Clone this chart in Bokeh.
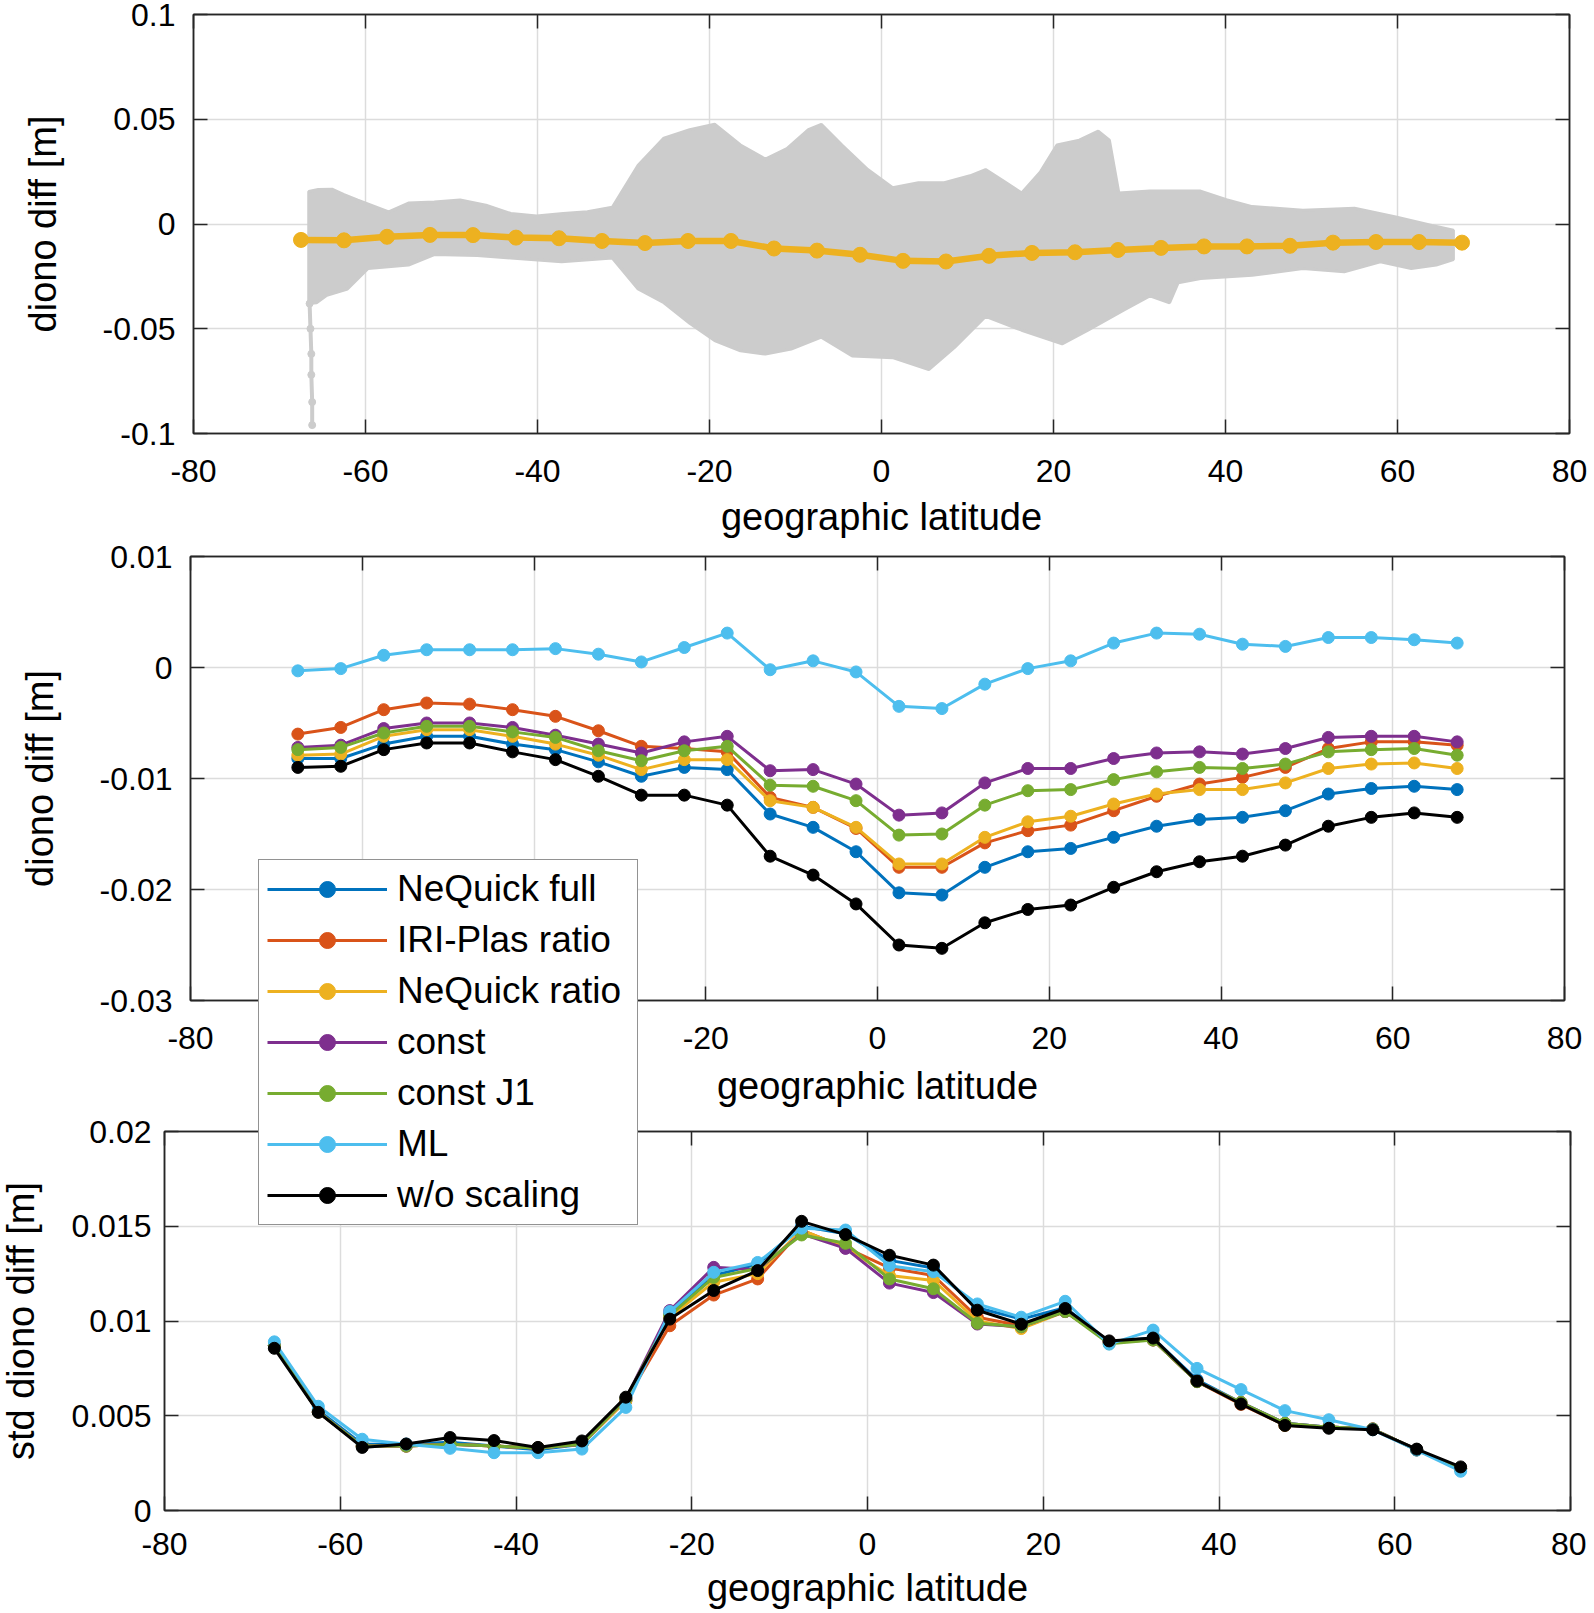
from bokeh.plotting import figure
from bokeh.layouts import column
from bokeh.models import (Range1d, LinearAxis, FixedTicker, Legend, LegendItem,
                          CustomJSTickFormatter)
from bokeh.embed import file_html
from bokeh.resources import INLINE

# ---------------- data ----------------
lat = [-67.5, -62.5, -57.5, -52.5, -47.5, -42.5, -37.5, -32.5, -27.5, -22.5,
       -17.5, -12.5, -7.5, -2.5, 2.5, 7.5, 12.5, 17.5, 22.5, 27.5,
       32.5, 37.5, 42.5, 47.5, 52.5, 57.5, 62.5, 67.5]

x_ticks = [-80, -60, -40, -20, 0, 20, 40, 60, 80]
x_tick_labels = ["-80", "-60", "-40", "-20", "0", "20", "40", "60", "80"]

top_y_ticks = [-0.1, -0.05, 0, 0.05, 0.1]
top_y_labels = ["-0.1", "-0.05", "0", "0.05", "0.1"]
mid_y_ticks = [-0.03, -0.02, -0.01, 0, 0.01]
mid_y_labels = ["-0.03", "-0.02", "-0.01", "0", "0.01"]
bot_y_ticks = [0, 0.005, 0.01, 0.015, 0.02]
bot_y_labels = ["0", "0.005", "0.01", "0.015", "0.02"]

# top panel: envelope of all individual differences (grey cloud)
cloud_upper_lat = [-66.6, -65.5, -63.9, -62.5, -60.9, -57.3, -55.0, -52.0, -49.0, -46.0,
                   -43.1, -40.1, -37.0, -34.2, -31.3, -28.3, -25.3, -22.3, -19.4, -16.4,
                   -13.5, -11.0, -8.5, -7.0, -4.6, -1.6, 1.3, 4.3, 7.3, 10.3,
                   12.1, 14.0, 16.3, 18.5, 20.4, 23.0, 25.2, 26.5, 27.6, 31.2,
                   37.1, 40.1, 43.1, 49.0, 55.0, 59.8, 64.0, 66.5]
cloud_upper_val = [0.0155, 0.0165, 0.0166, 0.0140, 0.0114, 0.0058, 0.0100, 0.0105, 0.0115, 0.0090,
                   0.0050, 0.0038, 0.0050, 0.0058, 0.0080, 0.0280, 0.0410, 0.0450, 0.0476, 0.0377,
                   0.0310, 0.0360, 0.0450, 0.0476, 0.0377, 0.0260, 0.0173, 0.0197, 0.0197, 0.0230,
                   0.0260, 0.0210, 0.0148, 0.0250, 0.0377, 0.0400, 0.0443, 0.0400, 0.0148, 0.0157,
                   0.0157, 0.0116, 0.0083, 0.0066, 0.0075, 0.0034, -0.0007, -0.0030]
cloud_lower_lat = [-66.6, -65.7, -64.5, -62.1, -59.7, -55.0, -52.0, -47.0, -43.1, -37.2,
                   -31.3, -28.3, -25.3, -22.3, -19.4, -16.4, -13.5, -10.5, -7.0, -3.4,
                   1.3, 5.5, 8.5, 12.1, 16.3, 21.0, 24.0, 28.2, 31.2, 33.5,
                   34.5, 37.1, 43.1, 49.0, 53.8, 58.0, 61.6, 64.5, 66.5]
cloud_lower_val = [-0.0380, -0.0376, -0.0340, -0.0310, -0.0212, -0.0196, -0.0146, -0.0150, -0.0162, -0.0180,
                   -0.0162, -0.0310, -0.0376, -0.0474, -0.0556, -0.0605, -0.0621, -0.0597, -0.0540, -0.0630,
                   -0.0638, -0.0695, -0.0589, -0.0441, -0.0507, -0.0572, -0.0507, -0.0410, -0.0343, -0.0376,
                   -0.0280, -0.0260, -0.0245, -0.0212, -0.0228, -0.0180, -0.0212, -0.0196, -0.0170]
spike_lat = [-66.5, -66.4, -66.3, -66.3, -66.2, -66.2]
spike_val = [-0.038, -0.050, -0.062, -0.072, -0.085, -0.096]

top_mean = [-0.0076, -0.0078, -0.0061, -0.0052, -0.0053, -0.0065, -0.0068, -0.0081, -0.0091, -0.0081,
            -0.0081, -0.0117, -0.0127, -0.0147, -0.0176, -0.0179, -0.0152, -0.0138, -0.0135, -0.0124,
            -0.0114, -0.0107, -0.0107, -0.0104, -0.0089, -0.0086, -0.0086, -0.0089]

series_names = ["NeQuick full", "IRI-Plas ratio", "NeQuick ratio", "const", "const J1", "ML", "w/o scaling"]
series_colors = ["#0072BD", "#D95319", "#EDB120", "#7E2F8E", "#77AC30", "#4DBEEE", "#000000"]

mid_nequick_full = [-0.0082, -0.0082, -0.0069, -0.0062, -0.0062, -0.0069, -0.0074, -0.0085, -0.0098, -0.0090,
                    -0.0092, -0.0132, -0.0144, -0.0166, -0.0203, -0.0205, -0.0180, -0.0166, -0.0163, -0.0153,
                    -0.0143, -0.0137, -0.0135, -0.0129, -0.0114, -0.0109, -0.0107, -0.0110]
mid_iri_plas = [-0.0060, -0.0054, -0.0038, -0.0032, -0.0033, -0.0038, -0.0044, -0.0057, -0.0071, -0.0073,
                -0.0076, -0.0117, -0.0126, -0.0145, -0.0180, -0.0180, -0.0158, -0.0147, -0.0142, -0.0129,
                -0.0116, -0.0105, -0.0099, -0.0090, -0.0073, -0.0067, -0.0067, -0.0070]
mid_nequick_ratio = [-0.0079, -0.0078, -0.0062, -0.0056, -0.0056, -0.0062, -0.0069, -0.0079, -0.0092, -0.0083,
                     -0.0083, -0.0120, -0.0126, -0.0144, -0.0177, -0.0177, -0.0153, -0.0139, -0.0134, -0.0123,
                     -0.0114, -0.0110, -0.0110, -0.0104, -0.0091, -0.0087, -0.0086, -0.0091]
mid_const = [-0.0072, -0.0070, -0.0055, -0.0050, -0.0050, -0.0054, -0.0061, -0.0069, -0.0077, -0.0067,
             -0.0062, -0.0093, -0.0092, -0.0105, -0.0133, -0.0131, -0.0104, -0.0091, -0.0091, -0.0082,
             -0.0077, -0.0076, -0.0078, -0.0073, -0.0063, -0.0062, -0.0062, -0.0067]
mid_const_j1 = [-0.0074, -0.0072, -0.0059, -0.0053, -0.0053, -0.0058, -0.0063, -0.0075, -0.0084, -0.0075,
                -0.0071, -0.0106, -0.0107, -0.0120, -0.0151, -0.0150, -0.0124, -0.0111, -0.0110, -0.0101,
                -0.0094, -0.0090, -0.0091, -0.0087, -0.0076, -0.0074, -0.0073, -0.0079]
mid_ml = [-0.0003, -0.0001, 0.0011, 0.0016, 0.0016, 0.0016, 0.0017, 0.0012, 0.0005, 0.0018,
          0.0031, -0.0002, 0.0006, -0.0004, -0.0035, -0.0037, -0.0015, -0.0001, 0.0006, 0.0022,
          0.0031, 0.0030, 0.0021, 0.0019, 0.0027, 0.0027, 0.0025, 0.0022]
mid_wo_scaling = [-0.0090, -0.0089, -0.0074, -0.0068, -0.0068, -0.0076, -0.0083, -0.0098, -0.0115, -0.0115,
                  -0.0124, -0.0170, -0.0187, -0.0213, -0.0250, -0.0253, -0.0230, -0.0218, -0.0214, -0.0198,
                  -0.0184, -0.0175, -0.0170, -0.0160, -0.0143, -0.0135, -0.0131, -0.0135]

std_nequick_full = [0.0087, 0.0053, 0.0035, 0.0035, 0.0036, 0.0034, 0.0032, 0.0035, 0.0058, 0.0104,
                    0.0124, 0.0130, 0.0150, 0.0146, 0.0132, 0.0128, 0.0107, 0.0101, 0.0107, 0.0089,
                    0.0091, 0.0069, 0.0057, 0.0046, 0.0044, 0.0043, 0.0032, 0.0022]
std_iri_plas = [0.0087, 0.0052, 0.0034, 0.0034, 0.0035, 0.0034, 0.0033, 0.0035, 0.0058, 0.00975,
                0.01137, 0.01222, 0.0148, 0.01387, 0.0128, 0.0124, 0.0102, 0.00975, 0.0105, 0.0089,
                0.0090, 0.0068, 0.0056, 0.0045, 0.0044, 0.0043, 0.0032, 0.0022]
std_nequick_ratio = [0.0087, 0.0052, 0.0034, 0.0034, 0.0035, 0.0034, 0.0033, 0.0035, 0.0058, 0.0102,
                     0.01205, 0.0125, 0.0148, 0.01387, 0.0124, 0.01214, 0.0100, 0.0096, 0.0105, 0.0089,
                     0.0090, 0.0068, 0.0057, 0.0045, 0.0044, 0.0043, 0.0032, 0.0022]
std_const = [0.0087, 0.0052, 0.0034, 0.0034, 0.0035, 0.0034, 0.0033, 0.0035, 0.0059, 0.01055,
             0.01283, 0.01271, 0.0146, 0.01383, 0.0120, 0.0115, 0.00984, 0.0097, 0.0105, 0.0089,
             0.0090, 0.0068, 0.0057, 0.0046, 0.0044, 0.0043, 0.0032, 0.0022]
std_const_j1 = [0.0087, 0.0052, 0.0034, 0.0034, 0.0035, 0.0034, 0.0033, 0.0035, 0.0059, 0.0103,
                0.0123, 0.01277, 0.01454, 0.0141, 0.01222, 0.0117, 0.00988, 0.0097, 0.0105, 0.0088,
                0.0090, 0.0068, 0.0057, 0.0046, 0.0044, 0.0043, 0.0032, 0.0022]
std_ml = [0.0089, 0.0055, 0.00376, 0.0035, 0.00328, 0.00305, 0.00305, 0.00324, 0.00544, 0.01050,
          0.01257, 0.01309, 0.0149, 0.0148, 0.01292, 0.0126, 0.0109, 0.0102, 0.01104, 0.00878,
          0.00952, 0.0075, 0.00638, 0.00527, 0.00479, 0.00426, 0.00319, 0.00207]
std_wo_scaling = [0.00856, 0.00518, 0.00333, 0.00351, 0.00385, 0.00369, 0.00333, 0.00367, 0.00598, 0.01010,
                  0.01161, 0.01266, 0.01526, 0.01456, 0.01347, 0.01295, 0.01057, 0.00983, 0.01066, 0.00895,
                  0.0091, 0.00683, 0.00562, 0.00449, 0.00434, 0.00426, 0.00324, 0.0023]

mid_series = [mid_nequick_full, mid_iri_plas, mid_nequick_ratio, mid_const, mid_const_j1, mid_ml, mid_wo_scaling]
std_series = [std_nequick_full, std_iri_plas, std_nequick_ratio, std_const, std_const_j1, std_ml, std_wo_scaling]

# ---------------- style ----------------
FONT = "Liberation Sans"
AXC = "#262626"
GRIDC = "#dcdcdc"
TICK_PX = "32px"
LABEL_PX = "38px"
LEGEND_PX = "37px"
LW = 3
MS = 12
W = 1592


def fmt(vals, labs):
    return CustomJSTickFormatter(args=dict(vals=vals, labs=labs), code="""
        for (let i = 0; i < vals.length; i++) {
            if (Math.abs(vals[i] - tick) < 1e-9) { return labs[i]; }
        }
        return '';
    """)


def blank():
    return CustomJSTickFormatter(code="return '';")


def style_axis(ax, ticker):
    ax.ticker = ticker
    ax.axis_line_color = AXC
    ax.axis_line_width = 1.5
    ax.major_tick_line_color = AXC
    ax.major_tick_line_width = 1.5
    ax.major_tick_in = 14
    ax.major_tick_out = 0
    ax.minor_tick_in = 0
    ax.minor_tick_out = 0
    ax.minor_tick_line_color = None
    ax.major_label_text_font = FONT
    ax.major_label_text_font_size = TICK_PX
    ax.major_label_text_color = "black"
    ax.axis_label_text_font = FONT
    ax.axis_label_text_font_size = LABEL_PX
    ax.axis_label_text_font_style = "normal"
    ax.axis_label_text_color = "black"


def make_fig(width, height, ylo, yhi, bl, br, bt, bb, yticks, ylabels, ylabel,
             x_std, x_lab_std, y_std, y_lab_std, margin=(0, 0, 0, 0)):
    p = figure(width=width, height=height, x_range=Range1d(-80, 80), y_range=Range1d(ylo, yhi),
               output_backend="svg", toolbar_location=None,
               min_border_left=bl, min_border_right=br, min_border_top=bt, min_border_bottom=bb,
               margin=margin)
    p.frame_align = False
    xt = FixedTicker(ticks=x_ticks)
    yt = FixedTicker(ticks=yticks)
    bx = p.xaxis[0]
    ly = p.yaxis[0]
    style_axis(bx, xt)
    style_axis(ly, yt)
    bx.formatter = fmt(x_ticks, x_tick_labels)
    ly.formatter = fmt(yticks, ylabels)
    bx.axis_label = "geographic latitude"
    ly.axis_label = ylabel
    bx.major_label_standoff = x_std
    bx.axis_label_standoff = x_lab_std
    ly.major_label_standoff = y_std
    ly.axis_label_standoff = y_lab_std
    for loc, tk in (("above", xt), ("right", yt)):
        ax = LinearAxis()
        style_axis(ax, tk)
        ax.formatter = blank()
        ax.major_label_text_font_size = "1px"
        ax.major_label_standoff = 0
        p.add_layout(ax, loc)
    p.xgrid.ticker = xt
    p.ygrid.ticker = yt
    for g in (p.xgrid, p.ygrid):
        g.grid_line_color = GRIDC
        g.grid_line_width = 1.5
    p.outline_line_color = AXC
    p.outline_line_width = 1.5
    p.background_fill_color = "white"
    p.border_fill_color = "white"
    return p


# ---------------- top panel ----------------
p1 = make_fig(W, 540, -0.1, 0.1, 193, W - 1569, 14, 106,
              top_y_ticks, top_y_labels, "diono diff [m]", 26, 11, 18, 36)
p1.patch(cloud_upper_lat + cloud_lower_lat[::-1], cloud_upper_val + cloud_lower_val[::-1],
         fill_color="#cccccc", line_color="#cccccc", line_width=3)
p1.line(spike_lat, spike_val, line_color="#cccccc", line_width=4)
p1.scatter(spike_lat, spike_val, size=7, color="#cccccc")
p1.line(lat, top_mean, line_color="#EDB120", line_width=6.5)
p1.scatter(lat, top_mean, size=15, color="#EDB120")

# ---------------- middle panel ----------------
p2 = make_fig(W, 569, -0.03, 0.01, 190, W - 1564, 16, 109,
              mid_y_ticks, mid_y_labels, "diono diff [m]", 26, 13, 18, 36)
for vals, col in zip(mid_series, series_colors):
    p2.line(lat, vals, line_color=col, line_width=LW)
    p2.scatter(lat, vals, size=MS, color=col)

# ---------------- bottom panel ----------------
p3 = make_fig(W, 502, 0, 0.02, 170, W - 6 - 1570, 22, 101,
              bot_y_ticks, bot_y_labels, "std diono diff [m]", 22, 9, 13, 26,
              margin=(0, 0, 0, -6))
for vals, col in zip(std_series, series_colors):
    p3.line(lat, vals, line_color=col, line_width=LW)
    p3.scatter(lat, vals, size=MS, color=col)

# ---------------- legend (own transparent canvas overlapping panels 2 and 3) ----------------
pl = figure(width=392, height=374, output_backend="svg", toolbar_location=None,
            x_axis_location=None, y_axis_location=None,
            min_border=0, min_border_left=0, min_border_right=0, min_border_top=0, min_border_bottom=0,
            margin=(858 - 1611, 0, 0, 257))
pl.frame_align = False
pl.grid.visible = False
pl.outline_line_color = None
pl.background_fill_color = None
pl.border_fill_color = None
items = []
for vals, col, name in zip(std_series, series_colors, series_names):
    lr = pl.line(lat, vals, line_color=col, line_width=LW, visible=False)
    sr = pl.scatter(lat, vals, size=MS - 1, color=col, visible=False)
    items.append(LegendItem(label=name, renderers=[lr, sr]))
legend = Legend(items=items, location="top_left")
legend.label_text_font = FONT
legend.label_text_font_size = LEGEND_PX
legend.label_text_color = "black"
legend.glyph_width = 120
legend.glyph_height = 40
legend.label_height = 42
legend.label_width = 232
legend.label_standoff = 10
legend.spacing = 9
legend.padding = 8
legend.margin = 1
legend.border_line_color = AXC
legend.border_line_width = 1.5
legend.background_fill_color = "white"
legend.background_fill_alpha = 1.0
pl.add_layout(legend, "center")

layout = column(p1, p2, p3, pl, spacing=0)
open("out.html", "w").write(file_html(layout, INLINE))
